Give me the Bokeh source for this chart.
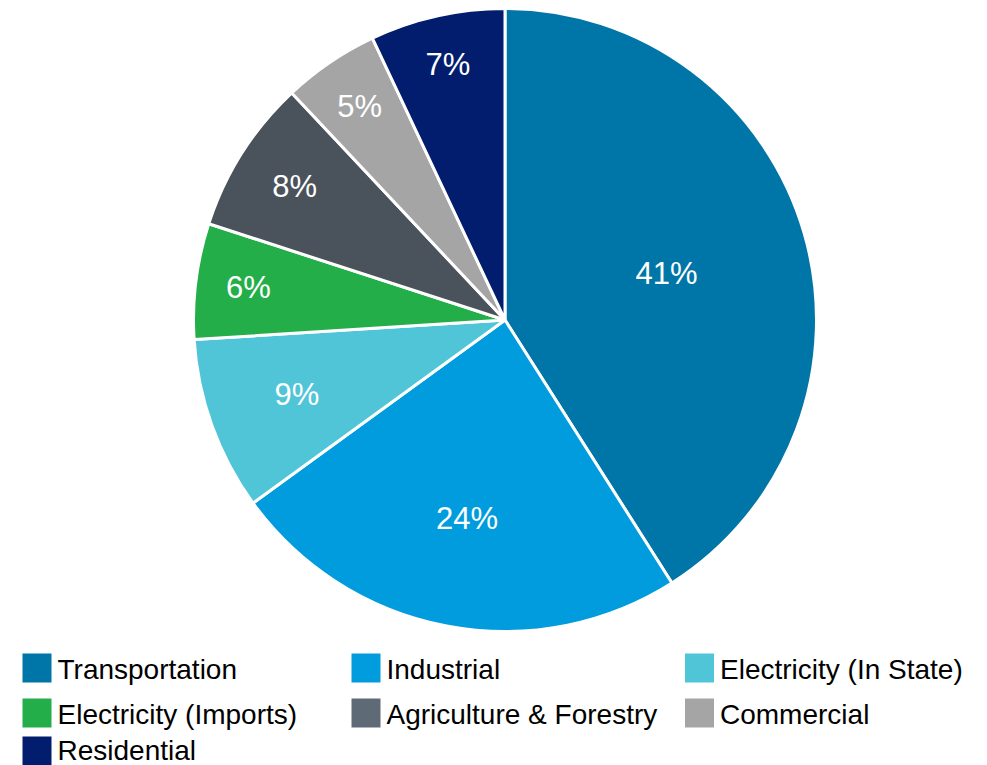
import math
from bokeh.plotting import figure
from bokeh.models import Range1d, ColumnDataSource
from bokeh.core.properties import value
from bokeh.embed import file_html
from bokeh.resources import INLINE

# ---- data ----
categories = ["Transportation", "Industrial", "Electricity (In State)",
              "Electricity (Imports)", "Agriculture & Forestry", "Commercial", "Residential"]
shares = [41, 24, 9, 6, 8, 5, 7]

# ---- styles ----
colors = ["#0076A8", "#009CDE", "#50C5D8", "#24AE4A", "#4A525B", "#A5A5A5", "#021D6E"]
legend_colors = ["#0076A8", "#009CDE", "#50C5D8", "#24AE4A", "#5F6A77", "#A5A5A5", "#021D6E"]
label_radius = [0.54, 0.65, 0.71, 0.83, 0.80, 0.83, 0.84]

W, H = 980, 765
p = figure(width=W, height=H, output_backend="svg", toolbar_location=None,
           x_range=Range1d(0, W), y_range=Range1d(0, H), min_border=0)
p.axis.visible = False
p.grid.visible = False
p.outline_line_color = None
p.background_fill_color = "white"

cx, cy, R = 504.5, H - 319.5, 311.5
total = sum(shares)
starts, ends, lx, ly, labels = [], [], [], [], []
cum = 0.0
for i, s in enumerate(shares):
    a0 = math.pi / 2 - 2 * math.pi * cum / total
    a1 = math.pi / 2 - 2 * math.pi * (cum + s) / total
    starts.append(a0)
    ends.append(a1)
    mid = (a0 + a1) / 2
    lx.append(cx + R * label_radius[i] * math.cos(mid))
    ly.append(cy + R * label_radius[i] * math.sin(mid))
    labels.append(f"{s}%")
    cum += s

src = ColumnDataSource(dict(start=starts, end=ends, color=colors, cat=categories))
p.wedge(x=cx, y=cy, radius=R, start_angle="start", end_angle="end", direction="clock",
        fill_color="color", line_color="white", line_width=3, source=src)

p.text(x=lx, y=ly, text=labels, text_color="white", text_font=value("Liberation Sans"),
       text_font_size="31px", text_align="center", text_baseline="middle")

# legend (manual, 3 columns)
col_x = [22.0, 351.0, 684.5]
row_y = [H - 667.5, H - 712.5, H - 750.5]
sq = 29
sx, sy, tx, ty = [], [], [], []
for i, c in enumerate(categories):
    col, row = i % 3, i // 3
    sx.append(col_x[col] + sq / 2)
    sy.append(row_y[row])
    tx.append(col_x[col] + sq + 6)
    ty.append(row_y[row] - 1.5 + (2 if row == 2 else 0))
p.rect(x=sx, y=sy, width=sq, height=sq, fill_color=legend_colors, line_color=None)
p.text(x=tx, y=ty, text=categories, text_color="black", text_font=value("Liberation Sans"),
       text_font_size="28px", text_align="left", text_baseline="middle")

open("out.html", "w").write(file_html(p, INLINE))
